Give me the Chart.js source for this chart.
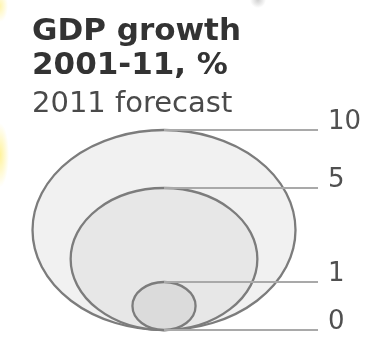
<!DOCTYPE html>
<html>
<head>
<meta charset="utf-8">
<script src="https://cdn.jsdelivr.net/npm/chart.js@4/dist/chart.umd.min.js"></script>
<style>
    html, body {margin: 0; padding: 0;}
    body {
        width: 372px; height: 342px; overflow: hidden;
        background:
            radial-gradient(ellipse 9px 32px at 0px 155px, rgba(255,238,120,0.75), rgba(255,238,120,0) 100%),
            radial-gradient(ellipse 8px 16px at 0px 6px, rgba(255,238,120,0.6), rgba(255,238,120,0) 100%),
            radial-gradient(circle 8px at 258px 0px, rgba(200,200,200,0.85), rgba(200,200,200,0) 100%),
            #ffffff;
    }
    #wrap {width: 372px; height: 342px; position: relative;}
</style>
</head>
<body>
<div id="wrap"><canvas id="chart"></canvas></div>
<script>
// legend values shown by the nested bubbles
const legendValues = [10, 5, 1]
// bubble heights, outer bubble = 100
const bubbleHeights = [100, 71, 24]
// labels on the right, top to bottom
const tickLabels = ['10', '5', '1', '0']
const tickValues = [100, 71, 24, 0]

const bubbleFills = ['#f1f1f1', '#e7e7e7', '#dbdbdb']

// draws the nested ellipses and the leader lines
const nestedBubbles = {
    id: 'nestedBubbles',
    afterDatasetsDraw(chart) {
        const ctx = chart.ctx
        const x = chart.scales.x
        const y = chart.scales.y
        const meta = chart.getDatasetMeta(0)
        const bottom = y.getPixelForValue(0)
        const cx = x.getPixelForValue(0)
        ctx.save()
        meta.data.forEach((pt, i) => {
            const top = pt.y
            const ry = (bottom - top) / 2
            const rx = ry * 1.315
            ctx.beginPath()
            ctx.ellipse(cx, top + ry, rx, ry, 0, 0, Math.PI * 2)
            ctx.fillStyle = bubbleFills[i]
            ctx.fill()
            ctx.lineWidth = 2.3
            ctx.strokeStyle = '#7c7c7c'
            ctx.stroke()
        })
        // leader lines
        ctx.lineWidth = 2
        ctx.strokeStyle = '#a9a9a9'
        y.ticks.forEach(t => {
            const py = Math.round(y.getPixelForValue(t.value))
            ctx.beginPath()
            ctx.moveTo(cx, py)
            ctx.lineTo(chart.chartArea.right, py)
            ctx.stroke()
        })
        ctx.restore()
    }
}

let canvas = document.getElementById('chart')
let chart = new Chart(canvas, {
    type: 'scatter',
    data: {
        datasets: [{
            data: bubbleHeights.map(h => ({x: 0, y: h})),
            pointRadius: 0,
            pointHoverRadius: 0
        }]
    },
    options: {
        responsive: true,
        maintainAspectRatio: false,
        animation: false,
        events: [],
        layout: {
            padding: {left: 32, right: 0.9, top: 0, bottom: 12}
        },
        scales: {
            x: {
                display: false,
                min: -60,
                max: 70
            },
            y: {
                position: 'right',
                min: 0,
                max: 100,
                afterBuildTicks: scale => {
                    scale.ticks = tickValues.map(v => ({value: v}))
                },
                afterFit: scale => {
                    // labels may hang over the top and bottom of the plot
                    scale.paddingTop = 0
                    scale.paddingBottom = 0
                },
                grid: {display: false, drawTicks: false},
                border: {display: false},
                ticks: {
                    padding: 10,
                    labelOffset: -7.5,
                    color: '#505050',
                    font: {family: 'DejaVu Sans', size: 26, lineHeight: 1},
                    callback: (v, i) => tickLabels[i]
                }
            }
        },
        plugins: {
            legend: {display: false},
            tooltip: {enabled: false},
            title: {
                display: true,
                text: ['GDP growth', '2001-11, %'],
                align: 'start',
                color: '#333',
                font: {family: 'DejaVu Sans', size: 31, weight: 'bold', lineHeight: 1.097},
                padding: {top: 15.3, bottom: 0}
            },
            subtitle: {
                display: true,
                text: '2011 forecast',
                align: 'start',
                color: '#4a4a4a',
                font: {family: 'DejaVu Sans', size: 29, lineHeight: 1.15},
                padding: {top: 4.1, bottom: 9.25}
            }
        }
    },
    plugins: [nestedBubbles]
})
</script>
</body>
</html>
